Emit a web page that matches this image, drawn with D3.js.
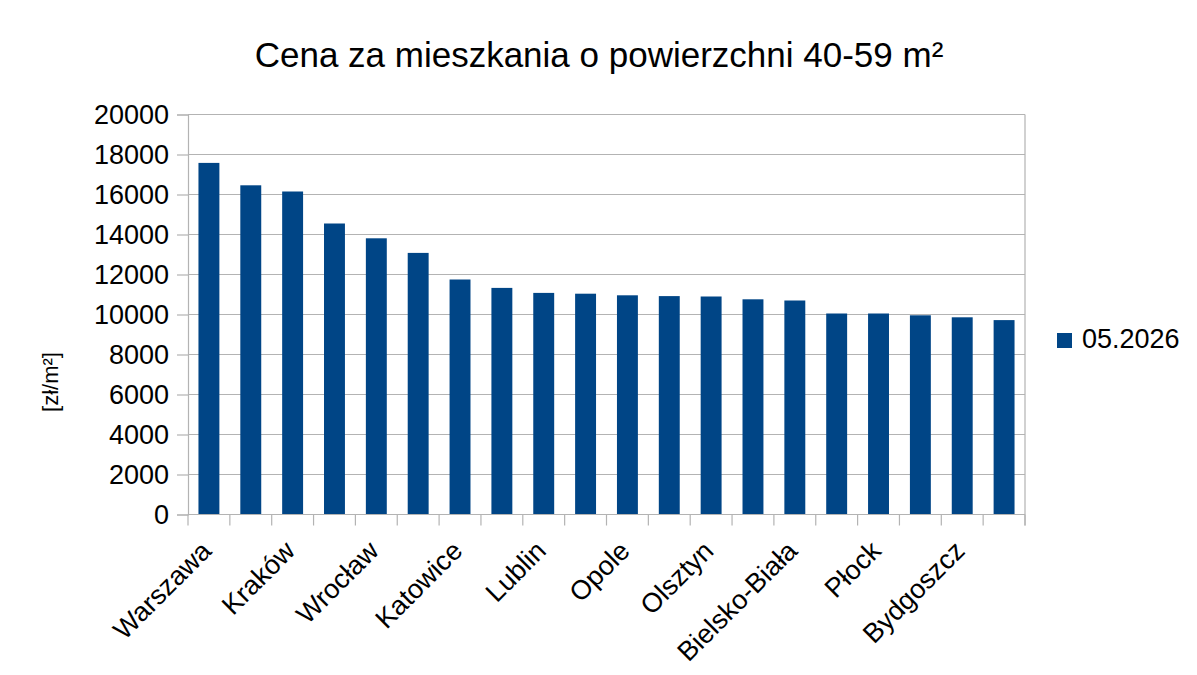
<!DOCTYPE html>
<html>
<head>
<meta charset="utf-8">
<script src="https://cdn.jsdelivr.net/npm/d3@7"></script>
<style>
  body { margin: 0; background: #fff; }
  svg { display: block; font-family: "Liberation Sans", Arial, sans-serif; }
</style>
</head>
<body>
<div id="chart"></div>
<script>
// data (zł/m², 05.2026)
const cities = [
  "Warszawa", "Gdańsk", "Kraków", "Gdynia", "Wrocław", "Poznań",
  "Katowice", "Łódź", "Lublin", "Rzeszów", "Opole", "Szczecin",
  "Olsztyn", "Białystok", "Bielsko-Biała", "Kielce", "Płock", "Toruń",
  "Bydgoszcz", "Zielona Góra"
]
const prices = [
  17580, 16460, 16150, 14550, 13810, 13080,
  11750, 11330, 11080, 11040, 10960, 10920,
  10900, 10760, 10700, 10050, 10050, 9960,
  9860, 9720
]
const yTicks = [0, 2000, 4000, 6000, 8000, 10000, 12000, 14000, 16000, 18000, 20000]
const seriesName = "05.2026"
const title = "Cena za mieszkania o powierzchni 40-59 m²"
const yLabel = "[zł/m²]"

const width = 1197
const height = 675
const margin = { top: 114.5, right: 172, bottom: 160.5, left: 188 }
const innerWidth = width - margin.left - margin.right
const innerHeight = height - margin.top - margin.bottom
const gridColor = "#b3b3b3"
const barColor = "#004586"

const svg = d3.select("#chart").append("svg")
  .attr("width", width)
  .attr("height", height)

svg.append("rect").attr("width", width).attr("height", height).attr("fill", "#fff")

const g = svg.append("g")
  .attr("transform", "translate(" + margin.left + "," + margin.top + ")")

const x = d3.scaleBand()
  .domain(cities)
  .range([0, innerWidth])
  .paddingInner(0.5)
  .paddingOuter(0.25)

const xTick = d3.scaleLinear()
  .domain([0, cities.length])
  .range([0, innerWidth])

const y = d3.scaleLinear()
  .domain([0, 20000])
  .range([innerHeight, 0])

// GRID
g.selectAll(".grid")
  .data(yTicks)
  .enter()
  .append("line")
  .attr("x1", 0)
  .attr("x2", innerWidth)
  .attr("y1", d => y(d))
  .attr("y2", d => y(d))
  .attr("stroke", gridColor)
  .attr("stroke-width", 1.2)

// BARS
g.selectAll(".bar")
  .data(prices)
  .enter()
  .append("rect")
  .attr("x", (d, i) => x(cities[i]))
  .attr("width", x.bandwidth())
  .attr("y", d => y(d))
  .attr("height", d => innerHeight - y(d))
  .attr("fill", barColor)

// Y AXIS
const yAxis = g.append("g")
  .call(d3.axisLeft(y).tickValues(yTicks).tickSize(11).tickPadding(8).tickFormat(d => d))
yAxis.select(".domain").attr("stroke", gridColor).attr("stroke-width", 1.2)
yAxis.selectAll(".tick line").attr("stroke", gridColor).attr("stroke-width", 1.2)
yAxis.selectAll("text")
  .style("font-size", "27px")
  .attr("fill", "#000")

// X AXIS: ticks between categories
const xAxis = g.append("g")
  .attr("transform", "translate(0," + innerHeight + ")")
xAxis.append("line")
  .attr("x1", 0).attr("x2", innerWidth)
  .attr("stroke", gridColor).attr("stroke-width", 1.2)
xAxis.selectAll(".xtick")
  .data(d3.range(cities.length + 1))
  .enter()
  .append("line")
  .attr("x1", d => xTick(d))
  .attr("x2", d => xTick(d))
  .attr("y1", 0)
  .attr("y2", 11)
  .attr("stroke", gridColor)
  .attr("stroke-width", 1.2)

// right wall edge
g.append("line")
  .attr("x1", innerWidth).attr("x2", innerWidth)
  .attr("y1", 0).attr("y2", innerHeight + 11)
  .attr("stroke", gridColor).attr("stroke-width", 1.2)

// X LABELS (every second category shown)
xAxis.selectAll(".xlabel")
  .data(cities.filter((d, i) => i % 2 === 0))
  .enter()
  .append("text")
  .attr("text-anchor", "end")
  .attr("transform", d => "translate(" + (x(d) + x.bandwidth() / 2 + 4) + ",38) rotate(-45)")
  .style("font-size", "27px")
  .attr("fill", "#000")
  .text(d => d)

// TITLE
svg.append("text")
  .attr("x", 599)
  .attr("y", 67)
  .attr("text-anchor", "middle")
  .style("font-size", "35px")
  .attr("fill", "#000")
  .text(title)

// Y LABEL
svg.append("text")
  .attr("transform", "translate(58,382) rotate(-90)")
  .attr("text-anchor", "middle")
  .style("font-size", "22px")
  .attr("fill", "#000")
  .text(yLabel)

// LEGEND
const legend = svg.append("g")
  .attr("transform", "translate(1057,333)")
legend.append("rect")
  .attr("width", 15)
  .attr("height", 15)
  .attr("fill", barColor)
legend.append("text")
  .attr("x", 25)
  .attr("y", 14.5)
  .style("font-size", "27px")
  .attr("fill", "#000")
  .text(seriesName)
</script>
</body>
</html>
